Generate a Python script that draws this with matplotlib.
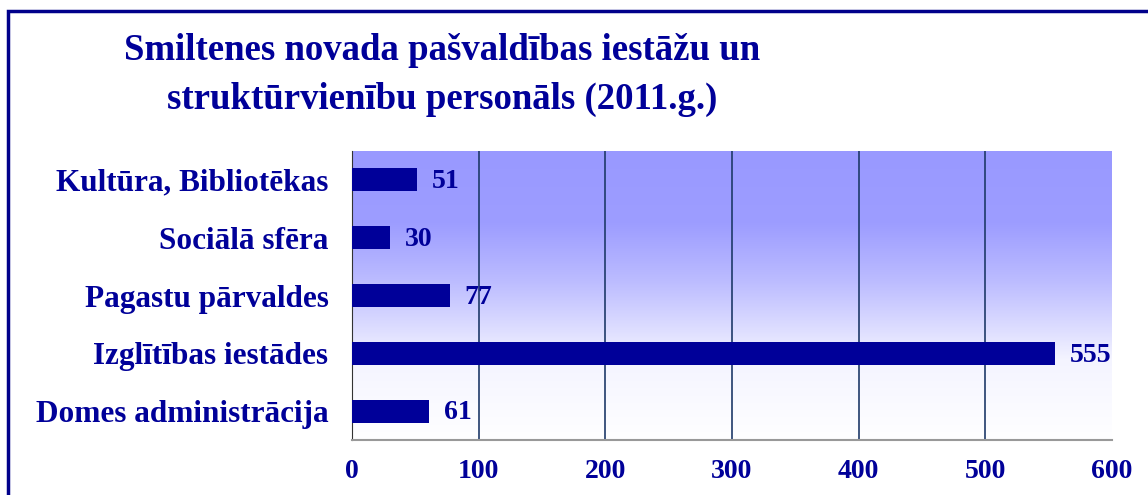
import numpy as np
import matplotlib.pyplot as plt
from matplotlib.colors import LinearSegmentedColormap
from matplotlib.patches import Rectangle

categories = ["Domes administrācija", "Izglītības iestādes", "Pagastu pārvaldes",
              "Sociālā sfēra", "Kultūra, Bibliotēkas"]
values = [61, 555, 77, 30, 51]
xticks = [0, 100, 200, 300, 400, 500, 600]
title = "Smiltenes novada pašvaldības iestāžu un\nstruktūrvienību personāls (2011.g.)"

navy = "#000099"
plt.rcParams['font.family'] = ['Liberation Serif', 'DejaVu Serif']
plt.rcParams['font.weight'] = 'bold'

fig = plt.figure(figsize=(11.48, 4.95), dpi=100)
ax = fig.add_axes([352/1148, 1 - 440/495, 760/1148, 289/495])

# gradient background: white at bottom, blue at top
cmap = LinearSegmentedColormap.from_list(
    "bg", [(0.0, "#ffffff"), (0.28, "#f4f4ff"), (0.36, "#e2e2ff"),
           (0.55, "#bcbcff"), (0.75, "#9d9dff"), (1.0, "#9999ff")])
grad = np.linspace(0, 1, 256).reshape(-1, 1)
ax.imshow(grad, aspect='auto', cmap=cmap, origin='lower',
          extent=[0, 600, -0.5, len(categories) - 0.5], zorder=0)

y = np.arange(len(categories))
ax.barh(y, values, height=0.4, color=navy, zorder=3)
for yi, v in zip(y, values):
    ax.text(v + 12, yi - 0.03, str(v), va='center', ha='left', fontsize=20,
            color=navy, fontweight='bold', zorder=4)

for t in xticks[1:-1]:
    ax.axvline(t, color="#1f3a6a", lw=1.2, zorder=2)

ax.set_xlim(0, 600)
ax.set_ylim(-0.5, len(categories) - 0.5)
ax.set_xticks(xticks)
ax.set_xticklabels([str(t) for t in xticks], fontsize=20, color=navy, fontweight='bold')
ax.set_yticks(y)
ax.set_yticklabels(categories, fontsize=22.5, color=navy, fontweight='bold')
ax.tick_params(axis='both', length=0)
ax.tick_params(axis='x', pad=14)
ax.tick_params(axis='y', pad=17)
for s in ['top', 'right']:
    ax.spines[s].set_visible(False)
ax.spines['left'].set_color('#333333')
ax.spines['bottom'].set_color('#999999')
ax.spines['bottom'].set_linewidth(1.5)

fig.text(442/1148, 1 - 75/495, title, ha='center', va='center', fontsize=26.5,
         color=navy, fontweight='bold', linespacing=1.5)

# frame around the chart (runs off the right and bottom edge)
fig.patches.append(Rectangle((8/1148, -0.1), 1.2, 1 - 11/495 + 0.1,
                             transform=fig.transFigure, fill=False,
                             edgecolor="#00008b", lw=2.5))

fig.savefig("out.png", dpi=100)
